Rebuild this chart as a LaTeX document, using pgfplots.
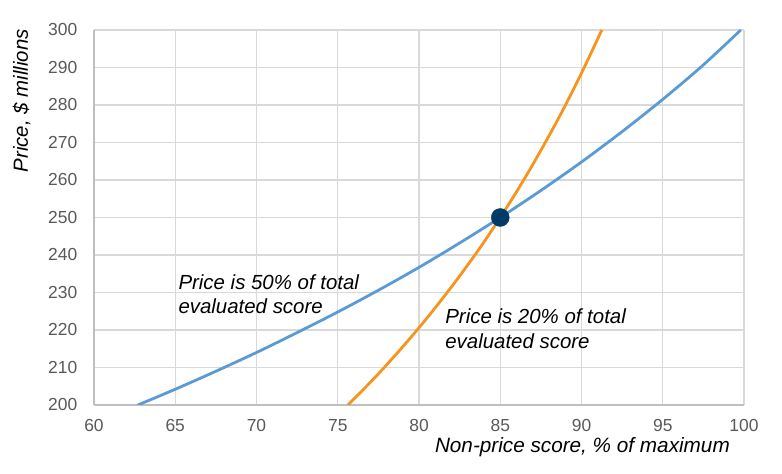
\documentclass[border=0pt]{standalone}
\usepackage{pgfplots}
\pgfplotsset{compat=1.18}
\usepackage{fontspec}
\setmainfont{Liberation Sans}
\definecolor{lineblue}{HTML}{5B9BD5}
\definecolor{lineorange}{HTML}{F7941D}
\definecolor{dotnavy}{HTML}{003A66}
\definecolor{gridgray}{HTML}{D9D9D9}
\definecolor{axisgray}{HTML}{BFBFBF}
\definecolor{ticktext}{HTML}{595959}
\begin{document}
\begin{tikzpicture}[x=1bp,y=1bp]
\path[use as bounding box] (-94,-69) rectangle (688,405);
\begin{axis}[
  at={(0,0)}, anchor=south west,
  width=650bp, height=375bp, scale only axis,
  xmin=60, xmax=100, ymin=200, ymax=300,
  xtick={60,65,...,100}, ytick={200,210,...,300},
  grid=major, major grid style={gridgray, line width=1.3bp},
  axis lines=left, axis line style={axisgray, line width=1.5bp, -},
  major tick length=0pt,
  tick label style={font=\fontsize{17.5}{21}\selectfont, text=ticktext},
  /pgf/number format/assume math mode=true,
  yticklabel style={anchor=east, inner sep=0pt, xshift=-16.5bp},
  xticklabel style={anchor=base, inner sep=0pt, yshift=-26.7bp},
]
\addplot[lineblue, line width=2.8bp, smooth] coordinates {
(62.7,200.0) (65,204.2) (67.5,209.0) (70,214.0) (72.5,219.3) (75,224.8)
(77.5,230.6) (80,236.7) (82.5,243.2) (85,250.0) (87.5,257.2) (90,264.8)
(92.5,272.9) (95,281.5) (97.5,290.7) (99.8,300.0)};
\addplot[lineorange, line width=2.8bp, smooth] coordinates {
(75.625,200.0) (76.25,202.7) (77.5,208.3) (78.75,214.3) (80,220.6)
(81.25,227.3) (82.5,234.4) (83.75,241.9) (85,250.0) (86.25,258.6)
(87.5,267.9) (88.75,277.8) (90,288.5) (91.25,300.0)};
\addplot[only marks, mark=*, mark size=9bp, mark options={fill=dotnavy, draw=dotnavy}] coordinates {(85,250)};
\node[anchor=base west, inner sep=0pt, font=\itshape\fontsize{20.5}{24}\selectfont] at (axis cs:65.19,230.7) {Price is 50\% of total};
\node[anchor=base west, inner sep=0pt, font=\itshape\fontsize{20.5}{24}\selectfont] at (axis cs:65.19,224.3) {evaluated score};
\node[anchor=base west, inner sep=0pt, font=\itshape\fontsize{20.5}{24}\selectfont] at (axis cs:81.61,221.8) {Price is 20\% of total};
\node[anchor=base west, inner sep=0pt, font=\itshape\fontsize{20.5}{24}\selectfont] at (axis cs:81.61,215.1) {evaluated score};
\end{axis}
\node[anchor=base east, inner sep=0pt, font=\itshape\fontsize{20.8}{24}\selectfont] at (636,-48) {Non-price score, \% of maximum};
\node[rotate=90, anchor=base east, inner sep=0pt, font=\itshape\fontsize{20.5}{24}\selectfont] at (-66,376) {Price, \$ millions};
\end{tikzpicture}
\end{document}
